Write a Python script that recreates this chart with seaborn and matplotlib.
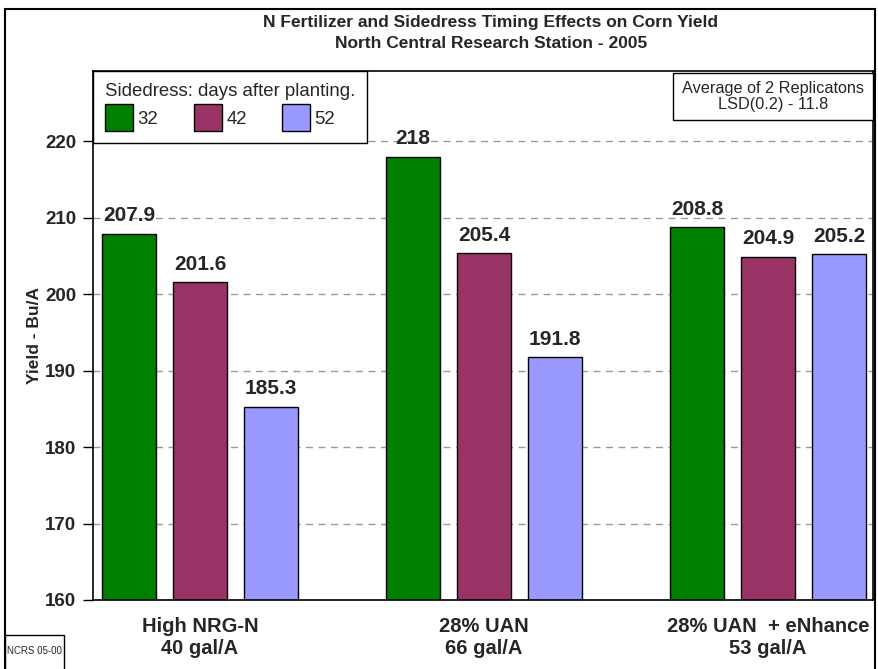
import pandas as pd
import matplotlib
matplotlib.use("Agg")
import matplotlib.pyplot as plt
from matplotlib.patches import Rectangle
import seaborn as sns

sns.set_style("white")
plt.rcParams['font.family'] = ['Liberation Sans', 'DejaVu Sans']

# data
products = ["High NRG-N\n40 gal/A", "28% UAN\n66 gal/A", "28% UAN  + eNhance\n53 gal/A"]
days = ["32", "42", "52"]
yield_32 = [207.9, 218, 208.8]
yield_42 = [201.6, 205.4, 204.9]
yield_52 = [185.3, 191.8, 205.2]
yticks = [160, 170, 180, 190, 200, 210, 220]

colors = ["#008000", "#993366", "#9999FF"]

rows = []
for d, vals in zip(days, [yield_32, yield_42, yield_52]):
    for p, v in zip(products, vals):
        rows.append({'product': p, 'days': d, 'yield': v})
df = pd.DataFrame(rows)

fig = plt.figure(figsize=(8.79, 6.69), dpi=100)
ax = fig.add_axes([93 / 879, 1 - 600 / 669, 780 / 879, 529 / 669])

sns.barplot(data=df, x='product', y='yield', hue='days', order=products, hue_order=days,
            palette=colors, saturation=1, edgecolor='black', linewidth=1,
            width=0.75, gap=0.24, errorbar=None, ax=ax)

for cont in ax.containers:
    ax.bar_label(cont, fmt='{:g}', padding=6, fontsize=15, fontweight='bold')

ax.set_ylim(160, 229.2)
ax.set_xlim(-0.377, 2.37)
ax.set_yticks(yticks)
ax.set_yticklabels([str(t) for t in yticks], fontsize=13.5, fontweight='bold')
ax.tick_params(axis='y', direction='out', length=7, width=1, color='black', left=True, pad=5)
ax.tick_params(axis='x', length=0, pad=12)
for lab in ax.get_xticklabels():
    lab.set_fontsize(14.5)
    lab.set_fontweight('bold')
ax.set_xlabel('')
ax.set_ylabel('Yield - Bu/A', fontsize=12.5, fontweight='bold', labelpad=2)

ax.set_axisbelow(True)
ax.yaxis.grid(True, linestyle=(0, (5, 4)), color='#999999', linewidth=1)
for s in ax.spines.values():
    s.set_color('black')
    s.set_linewidth(1.2)

leg = ax.legend(title='Sidedress: days after planting.', loc='upper left',
                bbox_to_anchor=(0, 1), borderaxespad=0, ncol=3, fontsize=13.4,
                title_fontsize=13.4, alignment='left', frameon=True, fancybox=False,
                edgecolor='black', framealpha=1, handlelength=1.5, handleheight=1.9,
                handletextpad=0.25, columnspacing=1.9, borderpad=0.65, labelspacing=0.2)
leg.get_frame().set_linewidth(1)

# titles
fig.text(491 / 879, 1 - 22 / 669, 'N Fertilizer and Sidedress Timing Effects on Corn Yield',
         ha='center', va='center', fontsize=12.5, fontweight='bold')
fig.text(491 / 879, 1 - 44 / 669, 'North Central Research Station - 2005',
         ha='center', va='center', fontsize=12.5, fontweight='bold')

# note box on the right
fig.patches.append(Rectangle((673 / 879, 1 - 120 / 669), 200 / 879, 47 / 669,
                             transform=fig.transFigure, facecolor='white',
                             edgecolor='black', linewidth=1, zorder=5))
fig.text(773 / 879, 1 - 96.5 / 669, 'Average of 2 Replicatons\nLSD(0.2) - 11.8',
         ha='center', va='center', fontsize=11.7, linespacing=1.15, zorder=6)

# code box bottom left
fig.patches.append(Rectangle((5 / 879, -0.01), 59 / 879, 34 / 669 + 0.01,
                             transform=fig.transFigure, facecolor='white',
                             edgecolor='black', linewidth=1))
fig.text(34.5 / 879, 1 - 651 / 669, 'NCRS 05-00', ha='center', va='center', fontsize=7)

# outer chart border
fig.patches.append(Rectangle((5 / 879, -0.01), 870 / 879, 1 - 9 / 669 + 0.01,
                             transform=fig.transFigure, facecolor='none',
                             edgecolor='black', linewidth=1.5))

fig.savefig('out.png', dpi=100)
